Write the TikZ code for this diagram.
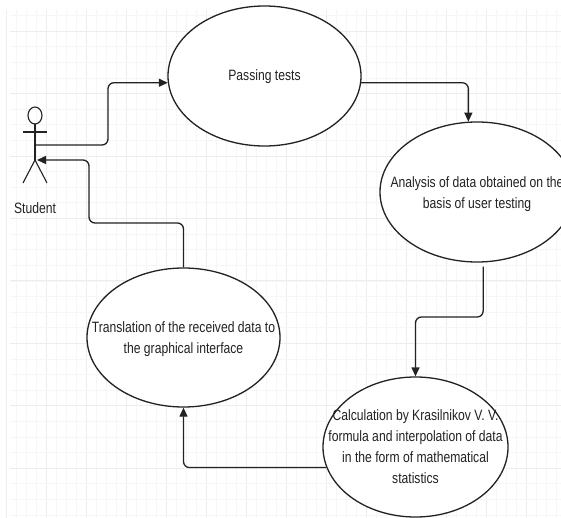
\documentclass[tikz,border=0pt]{standalone}
\usepackage{fontspec}
\setmainfont{Liberation Sans}[FakeStretch=0.81]
\usetikzlibrary{arrows.meta,shapes.geometric}
\definecolor{gridminor}{HTML}{F6F6F6}
\definecolor{gridmajor}{HTML}{EDEDED}
\definecolor{ink}{HTML}{222222}
\tikzset{
  usecase/.style={draw=ink, line width=1.3pt, fill=white, ellipse, inner sep=0pt},
  uctext/.style={align=center, text=ink, inner sep=0pt, font=\fontsize{15}{21}\selectfont},
  conn/.style={draw=ink, line width=1.3pt, rounded corners=6pt,
    -{Triangle[length=9pt,width=8pt]}},
  figline/.style={draw=ink, line width=1.1pt},
}
\begin{document}
\begin{tikzpicture}[x=1pt,y=-1pt]
\useasboundingbox (0,0) rectangle (561,518);
\fill[white] (0,0) rectangle (561,518);
% grid
\foreach \k in {0,...,54} {
  \pgfmathsetmacro{\xx}{16.7+10*\k}
  \draw[gridminor, line width=0.6pt] (\xx,10) -- (\xx,518);
}
\foreach \k in {0,...,13} {
  \pgfmathsetmacro{\xx}{6.7+40*\k}
  \draw[gridmajor, line width=0.7pt] (\xx,10) -- (\xx,518);
}
\foreach \k in {-3,...,29} {
  \pgfmathsetmacro{\yy}{468-15.6*\k}
  \draw[gridminor, line width=0.6pt] (10,\yy) -- (561,\yy);
}
\foreach \k in {0,...,7} {
  \pgfmathsetmacro{\yy}{468-62.4*\k}
  \draw[gridmajor, line width=0.7pt] (10,\yy) -- (561,\yy);
}
% use cases
\node[usecase, minimum width=193pt, minimum height=140pt] (pass) at (264.5,76) {};
\node[uctext] (passT) at (264.5,77) {Passing tests};
\node[usecase, minimum width=194pt, minimum height=140pt] (ana) at (477,192) {};
\node[uctext] (anaT) at (477,194) {Analysis of data obtained on the\\basis of user testing};
\node[usecase, minimum width=193pt, minimum height=139pt] (trans) at (183.5,337.5) {};
\node[uctext] (transT) at (183.5,339) {Translation of the received data to\\the graphical interface};
\node[usecase, minimum width=185pt, minimum height=140pt] (calc) at (415.5,447) {};
\node[uctext] (calcT) at (415.5,447)
  {Calculation by Krasilnikov V. V.\\formula and interpolation of data\\in the form of mathematical\\statistics};
% actor
\draw[figline] (35,115.5) ellipse [x radius=7, y radius=8.5];
\draw[figline] (35,124) -- (35,160);
\draw[figline] (23,132) -- (47,132);
\draw[figline] (23,183) -- (35,160) -- (47,183);
\coordinate (actA) at (35,145);
\coordinate (actB) at (37,160);
\node[uctext] (student) at (35,208) {Student};
% connectors
\draw[conn] (actA) -| (108,82.7) -- (pass.184);
\draw[conn] (pass.-4) -| (ana.97);
\draw[conn, shorten <=4pt] (ana.-85) |- (415.5,317) -- (calc.north);
\draw[conn] (calc.193.4) -| (trans.south);
\draw[conn] (trans.north) |- (89,223) |- (actB);
\end{tikzpicture}
\end{document}
